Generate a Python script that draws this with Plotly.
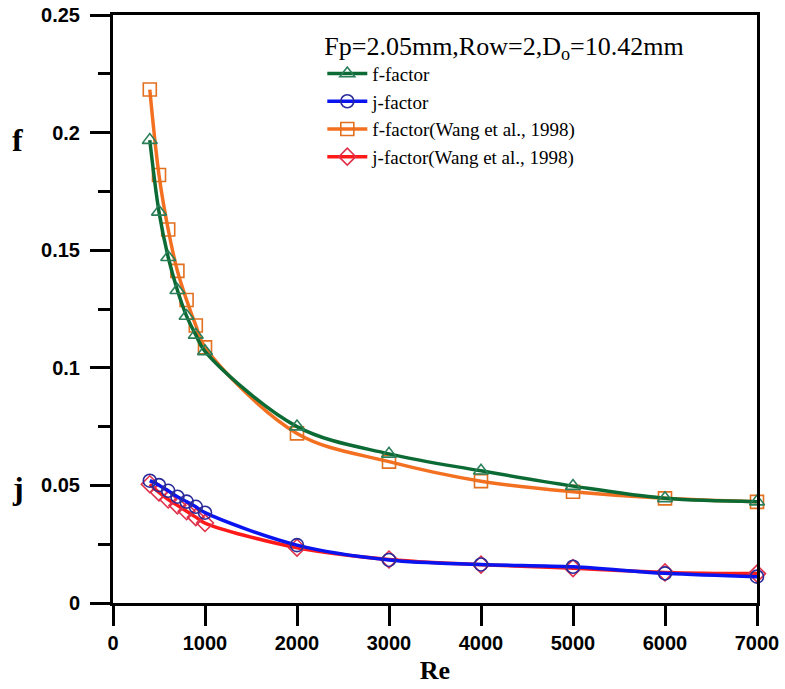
import plotly.graph_objects as go

re_vals = [400, 500, 600, 700, 800, 900, 1000, 2000, 3000, 4000, 5000, 6000, 7000]

f_factor = [0.1968, 0.1663, 0.147, 0.133, 0.122, 0.114, 0.107, 0.0750, 0.0634, 0.0562, 0.0497, 0.0445, 0.0431]
j_factor = [0.0520, 0.0501, 0.0477, 0.0452, 0.0431, 0.0409, 0.0384, 0.0246, 0.0183, 0.0164, 0.0154, 0.0126, 0.0112]
f_wang = [0.2183, 0.182, 0.1588, 0.1412, 0.1288, 0.118, 0.1087, 0.0721, 0.0601, 0.0518, 0.0473, 0.0445, 0.0430]
j_wang = [0.0505, 0.0470, 0.0440, 0.0415, 0.0390, 0.0365, 0.0340, 0.0235, 0.0185, 0.0163, 0.0148, 0.0130, 0.0125]

x_ticks = [0, 1000, 2000, 3000, 4000, 5000, 6000, 7000]
y_ticks = [0, 0.05, 0.1, 0.15, 0.2, 0.25]
y_tick_labels = ["0", "0.05", "0.1", "0.15", "0.2", "0.25"]

series = [
    # name, values, line colour, marker colour, symbol, legend rank
    ("f-factor(Wang et al., 1998)", f_wang, "#f37021", "#e2701f", "square-open", 3),
    ("j-factor(Wang et al., 1998)", j_wang, "#ff1a1a", "#e0304a", "diamond-open", 4),
    ("f-factor", f_factor, "#0c6b34", "#2a7f5a", "triangle-up-open", 1),
    ("j-factor", j_factor, "#0a14f0", "#2a2a9a", "circle-open", 2),
]

fig = go.Figure()
for name, vals, lc, mc, sym, rank in series:
    fig.add_trace(go.Scatter(
        x=re_vals, y=vals, name=name, mode="lines+markers",
        line=dict(color=lc, width=3.5, shape="spline", smoothing=1.0),
        marker=dict(symbol=sym, size=13, color=mc, line=dict(width=1.6, color=mc)),
        cliponaxis=False, legendrank=rank,
    ))

tick_font = dict(family="Liberation Sans, Arial", size=20, color="black", weight="bold")
serif = "Liberation Serif, Times New Roman"

fig.update_layout(
    width=785, height=689,
    margin=dict(l=113, r=28, t=15, b=86, autoexpand=False),
    plot_bgcolor="white", paper_bgcolor="white",
    showlegend=True,
    legend=dict(
        x=0.325, y=0.99, xanchor="left", yanchor="top",
        bgcolor="rgba(0,0,0,0)", borderwidth=0,
        font=dict(family=serif, size=19, color="black"),
        title=dict(text="Fp=2.05mm,Row=2,D<sub>o</sub>=10.42mm",
                   font=dict(family=serif, size=26, color="black"),
                   side="top"),
        itemwidth=40,
    ),
    xaxis=dict(
        range=[0, 7000], tickvals=x_ticks, ticktext=[str(v) for v in x_ticks],
        showgrid=False, zeroline=False, automargin=False,
        showline=True, linecolor="black", linewidth=3, mirror=True,
        ticks="outside", ticklen=20, tickwidth=3, tickcolor="black",
        tickfont=tick_font,
        title=dict(text="<b>Re</b>", font=dict(family=serif, size=26, color="black"), standoff=8),
    ),
    yaxis=dict(
        range=[0, 0.25], tickvals=y_ticks, ticktext=y_tick_labels,
        showgrid=False, zeroline=False, automargin=False,
        showline=True, linecolor="black", linewidth=3, mirror=True,
        ticks="outside", ticklen=20, tickwidth=3, tickcolor="black",
        minor=dict(dtick=0.025, tick0=0, ticks="outside", ticklen=12, tickwidth=3, tickcolor="black"),
        tickfont=tick_font, ticklabelstandoff=6,
    ),
)

fig.add_annotation(text="<b>f</b>", xref="paper", yref="y", x=-0.148, y=0.197,
                   xanchor="center", yanchor="middle", showarrow=False,
                   font=dict(family=serif, size=32, color="black"))
fig.add_annotation(text="<b>j</b>", xref="paper", yref="y", x=-0.148, y=0.049,
                   xanchor="center", yanchor="middle", showarrow=False,
                   font=dict(family=serif, size=32, color="black"))

fig.write_html("out.html")
